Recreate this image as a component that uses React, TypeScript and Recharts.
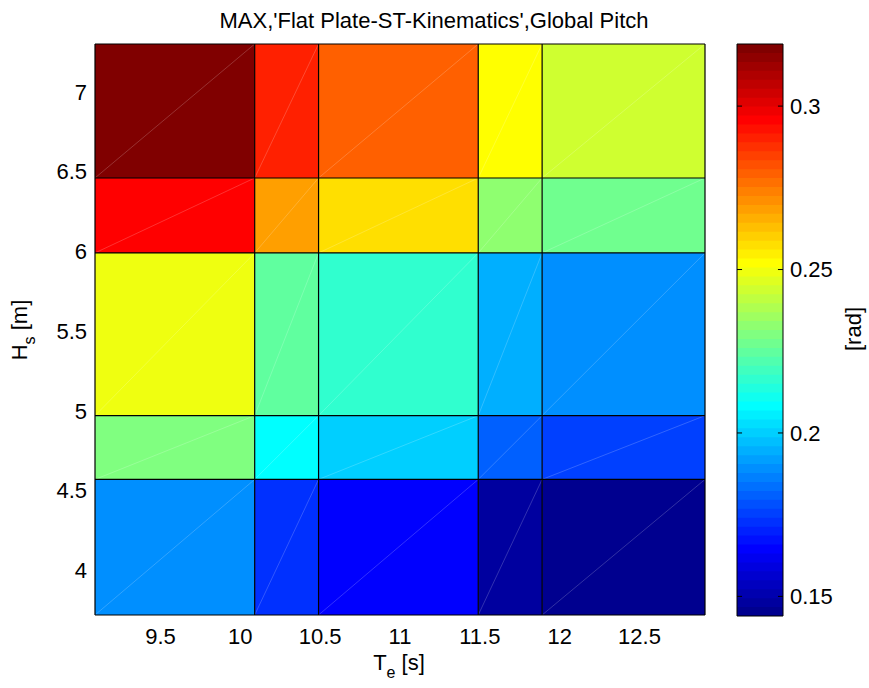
import React from 'react';
import { ComposedChart, XAxis, YAxis, ReferenceArea, ReferenceLine } from 'recharts';

// Cell edges of the sea-state grid
const teEdges = [9.09, 10.09, 10.49, 11.49, 11.89, 12.91];
const hsEdges = [3.72, 4.57, 4.97, 5.99, 6.46, 7.3];

// Maximum global pitch [rad], one row per Hs band (bottom to top), one value per Te band
const pitchHs1 = [0.1891, 0.1727, 0.1645, 0.1481, 0.144];
const pitchHs2 = [0.2301, 0.2083, 0.2001, 0.1809, 0.1754];
const pitchHs3 = [0.2493, 0.2247, 0.2165, 0.1946, 0.1891];
const pitchHs4 = [0.2958, 0.2684, 0.2575, 0.2329, 0.2274];
const pitchHs5 = [0.319, 0.2903, 0.2794, 0.252, 0.2438];
const pitchRows = [pitchHs1, pitchHs2, pitchHs3, pitchHs4, pitchHs5];

const teTicks = [9.5, 10, 10.5, 11, 11.5, 12, 12.5];
const hsTicks = [4, 4.5, 5, 5.5, 6, 6.5, 7];
const radTicks = [0.15, 0.2, 0.25, 0.3];

const LEVELS = 64;
const FONT = '"Liberation Sans", Arial, Helvetica, sans-serif';

// 64-entry jet colour map
function jetColor(i: number): string {
  const u = (k: number) => (k < 1 ? 0 : k <= 16 ? k / 16 : k <= 31 ? 1 : k <= 47 ? (48 - k) / 16 : 0);
  const r = u(i - 24);
  const g = u(i - 8);
  const b = u(i + 8);
  const h = (v: number) => Math.round(v * 255).toString(16).padStart(2, '0');
  return `#${h(r)}${h(g)}${h(b)}`;
}

const allValues = pitchRows.flat();
const cMin = Math.min(...allValues);
const cMax = Math.max(...allValues);

function colorFor(v: number): string {
  let idx = Math.floor(((v - cMin) / (cMax - cMin)) * LEVELS) + 1;
  idx = Math.max(1, Math.min(LEVELS, idx));
  return jetColor(idx);
}

type Cell = { x1: number; x2: number; y1: number; y2: number; value: number; te: number; hs: number };
const cells: Cell[] = [];
pitchRows.forEach((row, r) => {
  row.forEach((value, c) => {
    cells.push({
      x1: teEdges[c],
      x2: teEdges[c + 1],
      y1: hsEdges[r],
      y2: hsEdges[r + 1],
      value,
      te: (teEdges[c] + teEdges[c + 1]) / 2,
      hs: (hsEdges[r] + hsEdges[r + 1]) / 2,
    });
  });
});

const bandStep = (cMax - cMin) / LEVELS;
const bands = Array.from({ length: LEVELS }, (_, k) => ({
  y1: cMin + k * bandStep,
  y2: cMin + (k + 1) * bandStep,
  color: jetColor(k + 1),
}));

// the colour bar spans a unit-wide strip
const barExtent = [
  { pos: 0, level: cMin },
  { pos: 1, level: cMax },
];

const tickStyle = { fill: '#000', fontSize: 22, fontFamily: FONT };

function HeatMap() {
  return (
    <ComposedChart
      width={869}
      height={688}
      data={cells}
      margin={{ top: 44, right: 164, bottom: 33, left: 35 }}
    >
      <XAxis
        type="number"
        dataKey="te"
        domain={[teEdges[0], teEdges[teEdges.length - 1]]}
        ticks={teTicks}
        allowDataOverflow
        height={40}
        axisLine={false}
        tickLine={false}
        tickSize={0}
        tickMargin={13}
        tick={tickStyle}
        interval={0}
      />
      <YAxis
        type="number"
        dataKey="hs"
        domain={[hsEdges[0], hsEdges[hsEdges.length - 1]]}
        ticks={hsTicks}
        allowDataOverflow
        width={60}
        axisLine={false}
        tickLine={false}
        tickSize={0}
        tickMargin={8}
        tick={tickStyle}
        interval={0}
      />
      {cells.map((c, i) => (
        <ReferenceArea
          key={`cell-${i}`}
          x1={c.x1}
          x2={c.x2}
          y1={c.y1}
          y2={c.y2}
          fill={colorFor(c.value)}
          fillOpacity={1}
          stroke="none"
          ifOverflow="visible"
        />
      ))}
      {cells.map((c, i) => (
        <ReferenceLine
          key={`diag-${i}`}
          segment={[
            { x: c.x1, y: c.y1 },
            { x: c.x2, y: c.y2 },
          ]}
          stroke="#ffffff"
          strokeOpacity={0.28}
          strokeWidth={0.7}
          ifOverflow="visible"
        />
      ))}
      {teEdges.map((x) => (
        <ReferenceLine key={`te-${x}`} x={x} stroke="#000" strokeWidth={1.2} ifOverflow="visible" />
      ))}
      {hsEdges.map((y) => (
        <ReferenceLine key={`hs-${y}`} y={y} stroke="#000" strokeWidth={1.2} ifOverflow="visible" />
      ))}
    </ComposedChart>
  );
}

function ColorBar() {
  return (
    <ComposedChart
      width={179}
      height={688}
      data={barExtent}
      margin={{ top: 44, right: 26, bottom: 72, left: 47 }}
    >
      <XAxis type="number" dataKey="pos" domain={[0, 1]} hide allowDataOverflow />
      <YAxis
        type="number"
        dataKey="level"
        orientation="right"
        domain={[cMin, cMax]}
        ticks={radTicks}
        allowDataOverflow
        width={60}
        axisLine={false}
        tickLine={false}
        tickSize={0}
        tickMargin={7}
        tick={tickStyle}
        interval={0}
      />
      {bands.map((b, k) => (
        <ReferenceArea
          key={`band-${k}`}
          x1={0}
          x2={1}
          y1={b.y1}
          // each band runs slightly into the next one so no seam shows between them
          y2={k === LEVELS - 1 ? b.y2 : b.y2 + bandStep * 0.5}
          fill={b.color}
          fillOpacity={1}
          stroke="none"
          ifOverflow="visible"
        />
      ))}
      {radTicks.map((t) => (
        <ReferenceLine
          key={`tl-${t}`}
          segment={[
            { x: 0, y: t },
            { x: 0.11, y: t },
          ]}
          stroke="#000"
          ifOverflow="visible"
        />
      ))}
      {radTicks.map((t) => (
        <ReferenceLine
          key={`tr-${t}`}
          segment={[
            { x: 0.89, y: t },
            { x: 1, y: t },
          ]}
          stroke="#000"
          ifOverflow="visible"
        />
      ))}
      <ReferenceLine x={0} stroke="#000" ifOverflow="visible" />
      <ReferenceLine x={1} stroke="#000" ifOverflow="visible" />
      <ReferenceLine y={cMin} stroke="#000" ifOverflow="visible" />
      <ReferenceLine y={cMax} stroke="#000" ifOverflow="visible" />
    </ComposedChart>
  );
}

export default function App() {
  return (
    <div style={{ position: 'absolute', left: 0, top: 0, width: 869, height: 688, background: '#fff', fontFamily: FONT }}>
      <div style={{ position: 'absolute', left: 0, top: 0 }}>
        <HeatMap />
      </div>
      <div style={{ position: 'absolute', left: 690, top: 0 }}>
        <ColorBar />
      </div>
      <svg
        width={869}
        height={688}
        style={{ position: 'absolute', left: 0, top: 0, pointerEvents: 'none' }}
        fontFamily={FONT}
        fill="#000"
      >
        <text x={434} y={28} textAnchor="middle" fontSize={22}>
          MAX,'Flat Plate-ST-Kinematics',Global Pitch
        </text>
        <text x={399} y={670} textAnchor="middle" fontSize={22}>
          T
          <tspan dy={8} fontSize={16}>e</tspan>
          <tspan dy={-8}> [s]</tspan>
        </text>
        <text transform="translate(27,330) rotate(-90)" textAnchor="middle" fontSize={22}>
          H
          <tspan dy={8} fontSize={16}>s</tspan>
          <tspan dy={-8}> [m]</tspan>
        </text>
        <text transform="translate(861,329) rotate(-90)" textAnchor="middle" fontSize={22}>
          [rad]
        </text>
      </svg>
    </div>
  );
}
